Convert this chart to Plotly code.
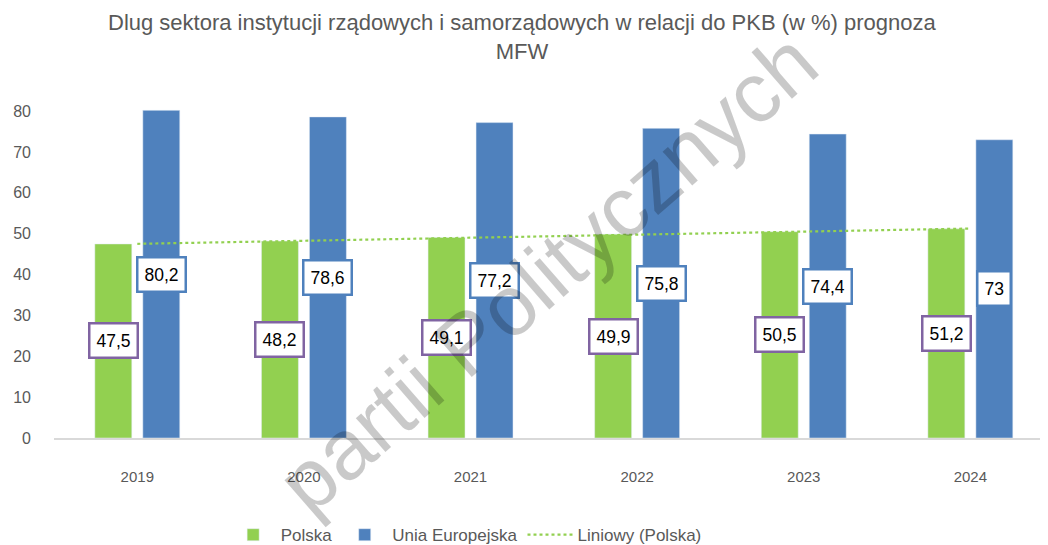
import numpy as np
import plotly.graph_objects as go

years = ["2019", "2020", "2021", "2022", "2023", "2024"]
polska = [47.5, 48.2, 49.1, 49.9, 50.5, 51.2]
ue = [80.2, 78.6, 77.2, 75.8, 74.4, 73.0]
polska_labels = ["47,5", "48,2", "49,1", "49,9", "50,5", "51,2"]
ue_labels = ["80,2", "78,6", "77,2", "75,8", "74,4", "73"]
title_text = "Dlug sektora instytucji rządowych i samorządowych w relacji do PKB (w %) prognoza<br>MFW"

GREEN = "#92D050"
BLUE = "#4F81BD"
PURPLE = "#8064A2"
GRAY = "#595959"
FONT = "Liberation Sans, Arial, sans-serif"

# linear trend (Excel "Liniowy")
xi = np.arange(1, len(polska) + 1)
slope, intercept = np.polyfit(xi, polska, 1)
trend = slope * xi + intercept

fig = go.Figure()
fig.add_trace(go.Bar(x=years, y=polska, name="Polska", marker=dict(color=GREEN)))
fig.add_trace(go.Bar(x=years, y=ue, name="Unia Europejska", marker=dict(color=BLUE)))
fig.add_trace(go.Scatter(x=years, y=trend, name="Liniowy (Polska)", mode="lines",
                         line=dict(color=GREEN, width=2.2, dash="dot")))

annotations = []
for i, (v, t) in enumerate(zip(polska, polska_labels)):
    annotations.append(dict(x=i, y=v / 2, text=t, showarrow=False, xshift=-24,
                            font=dict(family=FONT, size=17.5, color="black"),
                            bgcolor="white", bordercolor=PURPLE, borderwidth=2.5, borderpad=6))
for i, (v, t) in enumerate(zip(ue, ue_labels)):
    annotations.append(dict(x=i, y=v / 2, text=t, showarrow=False, xshift=24,
                            font=dict(family=FONT, size=17.5, color="black"),
                            bgcolor="white", bordercolor=BLUE, borderwidth=2.5, borderpad=6))
annotations.append(dict(xref="paper", yref="paper", x=0.475, y=1.2836, xanchor="center", yanchor="top",
                        text=title_text, showarrow=False,
                        font=dict(family=FONT, size=22, color=GRAY)))
annotations.append(dict(xref="paper", yref="paper", x=0.5, y=0.494, text="partii Politycznych",
                        showarrow=False, textangle=-41,
                        font=dict(family=FONT, size=85, color="rgba(0,0,0,0.21)")))

fig.update_layout(
    width=1048, height=545,
    margin=dict(l=54, r=8, t=103, b=107, autoexpand=False),
    paper_bgcolor="white", plot_bgcolor="white",
    barmode="group", bargap=0.424, bargroupgap=0.23,
    xaxis=dict(type="category", range=[-0.5, 5.418], showgrid=False, showline=True,
               linecolor="#D9D9D9", linewidth=1.5, ticks="", ticklabelstandoff=24,
               tickfont=dict(family=FONT, size=15, color=GRAY)),
    yaxis=dict(range=[0, 82], tickvals=[0, 10, 20, 30, 40, 50, 60, 70, 80], showgrid=False,
               zeroline=False, showline=False, ticks="", ticklabelstandoff=22,
               tickfont=dict(family=FONT, size=16, color=GRAY)),
    legend=dict(orientation="h", x=0.418, xanchor="center", y=-0.29, yanchor="middle",
                font=dict(family=FONT, size=17, color=GRAY),
                itemwidth=45, traceorder="normal"),
    annotations=annotations,
    showlegend=True,
)

fig.write_html("out.html", config={"displayModeBar": False},
               post_script="document.body.style.margin='0';")
